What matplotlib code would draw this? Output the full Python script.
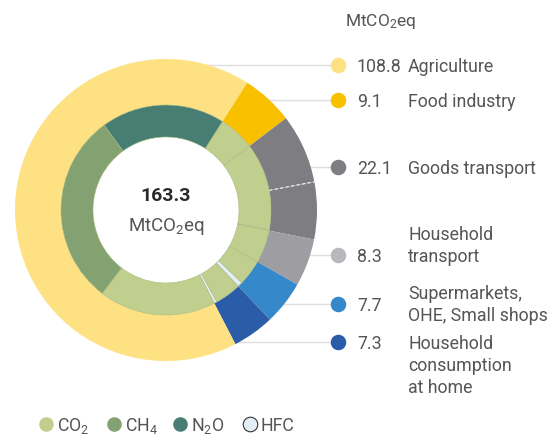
import numpy as np
import matplotlib
matplotlib.use("Agg")
import matplotlib.pyplot as plt
from matplotlib.patches import Circle

main_font = 'Roboto'
plt.rcParams['font.family'] = [main_font, 'DejaVu Sans']
plt.rcParams['mathtext.fontset'] = 'custom'
plt.rcParams['mathtext.rm'] = main_font
plt.rcParams['mathtext.it'] = main_font
plt.rcParams['mathtext.bf'] = main_font + ':bold'

# ---------------- data ----------------
sectors = ['Food industry', 'Goods transport', 'Household\ntransport',
           'Supermarkets,\nOHE, Small shops', 'Household\nconsumption\nat home', 'Agriculture']
sector_values = [9.1, 22.1, 8.3, 7.7, 7.3, 108.8]
sector_colors = ['#f9c000', '#7e7d82', '#9e9da2', '#3588c9', '#2b5ca8', '#fde183']
goods_split = [12.1, 10.0]

legend_order = ['Agriculture', 'Food industry', 'Goods transport', 'Household\ntransport',
                'Supermarkets,\nOHE, Small shops', 'Household\nconsumption\nat home']
legend_values = ['108.8', '9.1', '22.1', '8.3', '7.7', '7.3']

gases = ['CO$_2$', 'CH$_4$', 'N$_2$O', 'HFC']
gas_colors = {'CO2': '#c1cf8e', 'CH4': '#83a171', 'N2O': '#487d74', 'HFC': '#e3eff8'}
# inner ring composition per sector (same order as sectors)
food_gas = [('CO2', 9.1)]
goods_gas = [('CO2', 21.9), ('HFC', 0.2)]
hh_transport_gas = [('CO2', 8.3)]
supermarket_gas = [('CO2', 6.5), ('HFC', 1.2)]
hh_consumption_gas = [('CO2', 6.6), ('HFC', 0.7)]
agriculture_gas = [('CO2', 29.4), ('CH4', 48.3), ('N2O', 31.1)]
inner_groups = [food_gas, goods_gas, hh_transport_gas, supermarket_gas,
                hh_consumption_gas, agriculture_gas]
total = '163.3'

# ---------------- layout ----------------
W, H = 550, 436
fig = plt.figure(figsize=(W / 100, H / 100), dpi=100)
ax = fig.add_axes([0, 0, 1, 1])

def Y(y):
    return H - y

cx, cy = 166, Y(210)
R_out, w_out = 151, 46
R_in, w_in = 105, 32
start = 57.5

outer_vals = [sector_values[0]] + goods_split + sector_values[2:]
outer_cols = [sector_colors[0], sector_colors[1], sector_colors[1]] + sector_colors[2:]
wedges, _ = ax.pie(outer_vals, colors=outer_cols, startangle=start, counterclock=False,
                   radius=R_out, center=(cx, cy),
                   wedgeprops=dict(width=w_out, edgecolor='none', linewidth=0))
for w in wedges:
    w.set_zorder(3)

inner_vals, inner_cols = [], []
for grp in inner_groups:
    for g, v in grp:
        inner_vals.append(v)
        inner_cols.append(gas_colors[g])
iw, _ = ax.pie(inner_vals, colors=inner_cols, startangle=start, counterclock=False,
               radius=R_in, center=(cx, cy),
               wedgeprops=dict(width=w_in, edgecolor='#a9ba7c', linewidth=0.4))
for w in iw:
    w.set_zorder(3)
ax.add_patch(Circle((cx, cy), R_in - w_in - 0.5, facecolor='white', edgecolor='none', zorder=2))

# dashed separator inside goods transport
tot = sum(outer_vals)
ang = np.deg2rad(start - 360 * (sector_values[0] + goods_split[0]) / tot)
rr = np.array([R_out - w_out, R_out])
ax.plot(cx + rr * np.cos(ang), cy + rr * np.sin(ang), color='white', lw=0.8,
        ls=(0, (3, 2)), zorder=4)

ax.set_xlim(0, W)
ax.set_ylim(0, H)
ax.set_aspect('equal')
ax.axis('off')

gc = '#555555'
fs = 12.8
# center text
ax.text(cx, Y(196), total, ha='center', va='center', fontsize=14, fontweight='bold', color='#2a2a2a', zorder=5)
ax.text(cx, Y(227), 'MtCO$_2$eq', ha='center', va='center', fontsize=13.5, color=gc, zorder=5)

# right legend
ax.text(345, Y(22), 'MtCO$_2$eq', ha='left', va='center', fontsize=12.5, color=gc)
marker_y = [65, 100, 167, 255, 304, 342]
label_top = [65, 100, 167, 233, 292, 342]
leg_colors = [sector_colors[5], sector_colors[0], sector_colors[1], '#b8b8bc',
              sector_colors[3], sector_colors[4]]
line_gap = 22
for my, lt, col, val, lab in zip(marker_y, label_top, leg_colors, legend_values, legend_order):
    ax.plot([cx, 330], [Y(my), Y(my)], color='#dedede', lw=1, zorder=1)
    ax.scatter([338], [Y(my)], s=125, color=col, zorder=5, linewidths=0)
    ax.text(357, Y(my), val, ha='left', va='center_baseline', fontsize=fs, color=gc)
    for i, part in enumerate(lab.split('\n')):
        ax.text(408, Y(lt + i * line_gap), part, ha='left', va='center_baseline',
                fontsize=fs, color=gc)

# bottom legend
bx = [46, 114, 180, 250]
bkeys = ['CO2', 'CH4', 'N2O', 'HFC']
for x, k, lab in zip(bx, bkeys, gases):
    if k == 'HFC':
        ax.scatter([x], [Y(424)], s=110, color=gas_colors[k], edgecolors='#333333', linewidths=0.8, zorder=5)
    else:
        ax.scatter([x], [Y(424)], s=110, color=gas_colors[k], linewidths=0, zorder=5)
    ax.text(x + 11, Y(424), lab, ha='left', va='center_baseline', fontsize=fs, color=gc)

fig.savefig('out.png', dpi=100)
